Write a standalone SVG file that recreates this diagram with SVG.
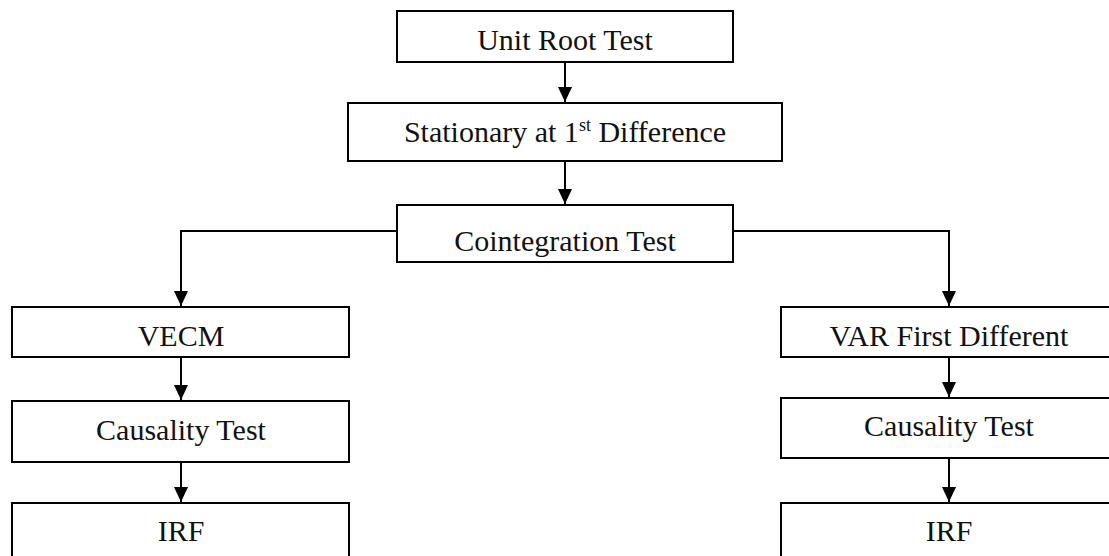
<svg xmlns="http://www.w3.org/2000/svg" width="1109" height="556" viewBox="0 0 1109 556">
<style>
.box{fill:#fff;stroke:#000;stroke-width:2}
.lbl{font-size:30px;fill:#111;text-anchor:middle}
.con{fill:none;stroke:#000;stroke-width:2}
</style>
<defs>
<marker id="ah" markerUnits="userSpaceOnUse" markerWidth="16" markerHeight="16" viewBox="0 0 16 16" refX="15" refY="8" orient="auto">
<path d="M0,1 L15,8 L0,15 Z" fill="#000"/>
</marker>
</defs>
<rect width="1109" height="556" fill="#fff"/>
<g id="connectors">
<path class="con" d="M565,62 V102" marker-end="url(#ah)"/>
<path class="con" d="M565,161 V204" marker-end="url(#ah)"/>
<path class="con" d="M397,231 H181 V306" marker-end="url(#ah)"/>
<path class="con" d="M733,231 H949 V306" marker-end="url(#ah)"/>
<path class="con" d="M181,357 V400" marker-end="url(#ah)"/>
<path class="con" d="M181,462 V502" marker-end="url(#ah)"/>
<path class="con" d="M949,357 V397" marker-end="url(#ah)"/>
<path class="con" d="M949,458 V502" marker-end="url(#ah)"/>
</g>
<g font-family="Liberation Serif, Times New Roman, DejaVu Serif, serif">
<g id="unit-root">
<rect class="box" x="397" y="11" width="336" height="51"/>
<text class="lbl" x="565" y="50">Unit Root Test</text>
</g>
<g id="stationary">
<rect class="box" x="348" y="103" width="434" height="58"/>
<text class="lbl" x="565" y="142">Stationary at 1<tspan font-size="18" dy="-11">st</tspan><tspan dy="11"> Difference</tspan></text>
</g>
<g id="cointegration">
<rect class="box" x="397" y="205" width="336" height="57"/>
<text class="lbl" x="565" y="251">Cointegration Test</text>
</g>
<g id="vecm">
<rect class="box" x="12" y="307" width="337" height="50"/>
<text class="lbl" x="181" y="346">VECM</text>
</g>
<g id="causality-left">
<rect class="box" x="12" y="401" width="337" height="61"/>
<text class="lbl" x="181" y="440">Causality Test</text>
</g>
<g id="irf-left">
<rect class="box" x="12" y="503" width="337" height="60"/>
<text class="lbl" x="181" y="541">IRF</text>
</g>
<g id="var">
<rect class="box" x="781" y="307" width="337" height="50"/>
<text class="lbl" x="949" y="346">VAR First Different</text>
</g>
<g id="causality-right">
<rect class="box" x="781" y="398" width="337" height="60"/>
<text class="lbl" x="949" y="436">Causality Test</text>
</g>
<g id="irf-right">
<rect class="box" x="781" y="503" width="337" height="60"/>
<text class="lbl" x="949" y="541">IRF</text>
</g>
</g>
</svg>
